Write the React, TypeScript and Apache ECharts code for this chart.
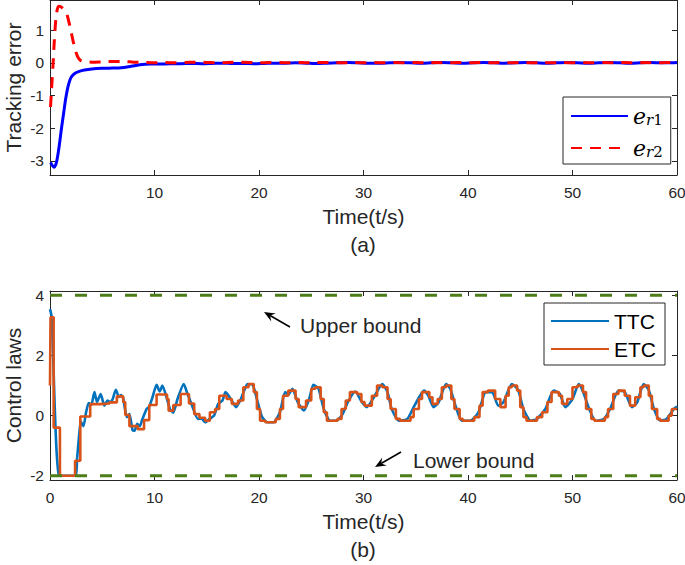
import React, { useEffect, useRef } from 'react';
import * as echarts from 'echarts';

// ---------- data (a) ----------
const er1: [number, number][] = [
  [0.05, -3.05], [0.25, -3.15], [0.4, -3.19], [0.55, -3.12], [0.7, -2.92], [0.9, -2.5], [1.1, -2.0],
  [1.3, -1.55], [1.5, -1.1], [1.7, -0.76], [1.9, -0.53], [2.1, -0.41], [2.4, -0.32], [2.8, -0.26],
  [3.3, -0.22], [4, -0.19], [5, -0.17], [6, -0.16], [6.8, -0.15], [7.5, -0.12], [8.2, -0.08],
  [8.8, -0.05], [9.5, -0.04], [10.5, -0.04], [11.5, -0.03], [12.5, -0.03], [13.5, -0.02],
  [14.5, -0.03], [15.5, -0.02], [16.5, -0.01], [17.5, -0.02], [18.5, -0.02], [19.5, -0.03],
  [20.5, -0.02], [21.5, -0.01], [22.5, -0.01], [23.5, 0], [24.5, -0.01], [25.5, -0.02],
  [26.5, -0.01], [27.5, 0], [28.5, 0.01], [29.5, 0], [30.5, -0.01], [31.5, -0.01], [32.5, 0],
  [33.5, 0.01], [34.5, 0], [35.5, -0.01], [36.5, 0], [37.5, 0.01], [38.5, 0], [39.5, -0.01],
  [40.5, 0], [41.5, 0.01], [42.5, 0], [43.5, -0.01], [44.5, 0], [45.5, 0.01], [46.5, 0],
  [47.5, -0.01], [48.5, 0], [49.5, 0.01], [50.5, 0], [51.5, -0.01], [52.5, 0], [53.5, 0.01],
  [54.5, 0], [55.5, -0.01], [56.5, 0], [57.5, 0.01], [58.5, 0], [59.5, 0], [60, 0.01],
];

const er2: [number, number][] = [
  [0.05, -1.35], [0.15, -0.8], [0.3, 0.0], [0.4, 0.6], [0.5, 1.1], [0.6, 1.45], [0.72, 1.66],
  [0.85, 1.73], [1.0, 1.72], [1.2, 1.67], [1.4, 1.6], [1.6, 1.5], [1.8, 1.26], [2.0, 0.98],
  [2.2, 0.68], [2.4, 0.42], [2.6, 0.22], [2.8, 0.11], [3.0, 0.06], [3.4, 0.03], [4, 0.02],
  [5, 0.03], [6, 0.04], [7, 0.04], [8, 0.02], [9, 0.01], [10, 0], [11, 0.01], [12, 0],
  [13, 0.01], [14, 0.02], [15, 0.01], [16, 0], [17, 0.01], [18, 0.02], [19, 0.01], [20, 0],
  [21, 0.01], [22, 0.01], [23, 0], [24, 0.01], [25, 0], [26, 0.01], [27, 0.01], [28, 0],
  [29, 0.01], [30, 0], [31, 0.01], [32, 0], [33, 0.01], [34, 0], [35, 0.01], [36, 0],
  [37, 0.01], [38, 0], [39, 0.01], [40, 0], [41, 0.01], [42, 0], [43, 0.01], [44, 0],
  [45, 0.01], [46, 0], [47, 0.01], [48, 0], [49, 0.01], [50, 0], [51, 0.01], [52, 0],
  [53, 0.01], [54, 0], [55, 0.01], [56, 0], [57, 0.01], [58, 0], [59, 0.01], [60, 0],
];

// ---------- data (b) ----------
const ttc: [number, number][] = [
  [0, 3.54], [0.15, 3.3], [0.3, 2.0], [0.45, 0.3], [0.6, -1.0], [0.75, -1.75], [0.9, -2.0],
  [2.4, -2.0], [2.6, -1.4], [2.8, -0.6], [2.95, -0.2], [3.2, -0.35], [3.45, 0.1], [3.7, 0.42],
  [3.95, 0.35], [4.25, 0.78], [4.5, 0.45], [4.85, 0.72], [5.2, 0.33], [5.5, 0.5], [5.75, 0.45],
  [6.0, 0.55], [6.3, 0.86], [6.6, 0.62], [6.8, 0.68], [7.0, 0.58], [7.35, -0.05], [7.6, 0.05],
  [7.9, -0.48], [8.1, -0.5], [8.35, -0.27], [8.6, -0.35], [8.8, -0.16], [9.25, 0.22], [9.5, 0.3],
  [9.8, 0.6], [10.2, 1.02], [10.5, 0.8], [10.75, 1.0], [11.2, 0.55], [11.5, 0.2], [11.8, 0.1],
  [12.2, 0.55], [12.8, 1.05], [13.1, 0.78], [13.6, 0.33], [14.15, -0.11], [14.5, -0.1],
  [14.85, -0.22], [15.3, -0.1], [15.7, 0.0], [16.1, 0.39], [16.5, 0.5], [16.8, 0.78], [17.3, 0.55],
  [17.8, 0.28], [18.2, 0.5], [18.6, 0.85], [18.9, 1.05], [19.4, 1.02], [19.8, 0.55], [20.3, -0.05],
  [20.8, -0.22], [21.4, -0.22], [22.0, 0.11], [22.5, 0.78], [22.8, 0.7], [23.2, 0.89], [23.7, 0.45],
  [24.3, 0.17], [24.8, 0.55], [25.2, 1.02], [25.7, 0.89], [26.2, 0.22], [26.8, -0.17], [27.4, -0.17],
  [28.0, 0.05], [28.5, 0.45], [29.2, 0.8], [29.85, 0.45], [30.3, 0.28], [31.0, 0.61], [31.8, 1.05],
  [32.3, 0.78], [32.7, 0.22], [33.4, -0.17], [34.2, -0.11], [34.8, 0.28], [35.8, 0.83], [36.2, 0.66],
  [36.7, 0.28], [37.2, 0.45], [37.9, 1.05], [38.3, 0.89], [38.8, 0.33], [39.4, -0.17], [40.2, -0.17],
  [41.0, 0.11], [41.7, 0.78], [42.3, 0.78], [42.9, 0.33], [43.4, 0.45], [44.2, 1.05], [44.8, 0.85],
  [45.3, 0.22], [46.0, -0.17], [46.6, -0.11], [47.4, 0.22], [48.2, 0.83], [48.8, 0.72], [49.3, 0.28],
  [50.0, 0.55], [50.6, 1.05], [51.0, 0.8], [51.6, 0.22], [52.2, -0.17], [53.0, -0.11], [53.6, 0.22],
  [54.4, 0.83], [55.0, 0.78], [55.7, 0.28], [56.2, 0.45], [56.8, 1.05], [57.3, 0.85], [57.8, 0.22],
  [58.4, -0.17], [59.0, -0.11], [59.7, 0.22], [60.0, 0.3],
];

const etc: [number, number][] = [
  [0, 1.0], [0.05, 3.27], [0.35, -0.4], [0.95, -2.0], [2.4, -1.5], [2.9, -0.03], [3.85, 0.38],
  [4.8, 0.4], [5.7, 0.44], [6.4, 0.64], [7.0, 0.45], [7.2, 0.02], [7.6, -0.35], [8.4, -0.45],
  [9.0, -0.15], [9.5, 0.35], [10.2, 0.7], [11.2, 0.55], [11.35, 0.16], [11.8, 0.35], [12.5, 0.72],
  [13.3, 0.4], [13.8, 0.05], [14.3, -0.07], [14.85, -0.17], [15.3, 0.11], [15.8, 0.22], [16.2, 0.66],
  [16.9, 0.55], [17.4, 0.39], [18.0, 0.5], [18.5, 0.94], [19.0, 1.05], [19.5, 0.78], [19.8, 0.22],
  [20.1, -0.17], [20.6, -0.22], [21.6, -0.11], [22.0, 0.22], [22.3, 0.66], [22.8, 0.83], [23.5, 0.55],
  [23.8, 0.28], [24.5, 0.5], [25.0, 0.89], [25.4, 0.94], [25.9, 0.55], [26.2, 0.11], [26.5, -0.17],
  [27.5, -0.11], [27.9, 0.22], [28.3, 0.5], [28.7, 0.78], [29.4, 0.72], [29.8, 0.45], [30.1, 0.33],
  [30.8, 0.66], [31.3, 1.0], [31.8, 0.94], [32.3, 0.55], [32.6, 0.22], [33.1, -0.11], [33.5, -0.17],
  [34.5, -0.05], [34.8, 0.22], [35.3, 0.55], [35.6, 0.78], [36.3, 0.61], [36.6, 0.39], [37.1, 0.55],
  [37.5, 0.94], [37.9, 1.0], [38.4, 0.55], [38.7, 0.22], [39.2, -0.11], [39.5, -0.17], [40.6, -0.05],
  [41.1, 0.33], [41.4, 0.78], [41.9, 0.83], [42.6, 0.55], [43.1, 0.28], [43.6, 0.66], [43.9, 0.94],
  [44.2, 1.0], [44.7, 0.83], [45.0, 0.28], [45.3, -0.05], [45.6, -0.17], [46.6, -0.05], [47.1, 0.11],
  [47.6, 0.45], [48.0, 0.78], [48.7, 0.66], [49.0, 0.39], [49.5, 0.55], [50.0, 0.94], [50.5, 1.0],
  [51.0, 0.78], [51.3, 0.22], [51.8, -0.11], [52.1, -0.17], [53.1, -0.05], [53.4, 0.22], [53.9, 0.72],
  [54.4, 0.83], [55.0, 0.66], [55.5, 0.33], [56.0, 0.61], [56.5, 0.94], [56.8, 1.0], [57.3, 0.66],
  [57.6, 0.22], [58.1, -0.11], [58.4, -0.17], [59.2, 0.0], [59.5, 0.22], [60, 0.22],
];

const upperBound = 4;
const lowerBound = -2;
const timeRange: [number, number] = [0, 60];
const yRangeA: [number, number] = [-3.43, 1.92];
const yRangeB: [number, number] = [-2.14, 4.14];

// ---------- styles ----------
const FONT = 'Liberation Sans, Arial, Helvetica, sans-serif';
const AX = '#262626';

function arrow(tail: [number, number], tip: [number, number]) {
  const dx = tip[0] - tail[0];
  const dy = tip[1] - tail[1];
  const L = Math.hypot(dx, dy);
  const ux = dx / L, uy = dy / L;
  const len = 11, half = 4.5, notch = 7;
  const bx = tip[0] - ux * len, by = tip[1] - uy * len;
  const px = -uy, py = ux;
  const nx = tip[0] - ux * notch, ny = tip[1] - uy * notch;
  return [
    { type: 'line', shape: { x1: tail[0], y1: tail[1], x2: nx, y2: ny }, style: { stroke: '#000', lineWidth: 1.5 } },
    {
      type: 'polygon',
      shape: { points: [tip, [bx + px * half, by + py * half], [nx, ny], [bx - px * half, by - py * half]] },
      style: { fill: '#000' },
    },
  ];
}

function xAx(grid: number, main: boolean, hideZero: boolean) {
  return {
    gridIndex: grid, type: 'value', min: timeRange[0], max: timeRange[1], interval: 10,
    position: main ? 'bottom' : 'top',
    axisLine: { show: true, onZero: false, lineStyle: { color: AX, width: 1 } },
    axisTick: { show: true, inside: true, length: 5, lineStyle: { color: AX } },
    axisLabel: {
      show: main, margin: 9, fontSize: 15.5, color: AX, fontFamily: FONT,
      formatter: (v: number) => (hideZero && v === 0 ? '' : String(v)),
    },
    splitLine: { show: false },
    name: main ? 'Time(t/s)' : '', nameLocation: 'middle', nameGap: 31, nameMoveOverlap: false,
    nameTextStyle: { fontSize: 21, color: AX, fontFamily: FONT },
  };
}

function yAx(grid: number, main: boolean, range: [number, number], step: number, name: string) {
  return {
    gridIndex: grid, type: 'value', min: range[0], max: range[1], minInterval: step, maxInterval: step,
    position: main ? 'left' : 'right',
    axisLine: { show: true, onZero: false, lineStyle: { color: AX, width: 1 } },
    axisTick: { show: true, inside: true, length: 5, lineStyle: { color: AX } },
    axisLabel: {
      show: main, margin: 6, fontSize: 15.5, color: AX, fontFamily: FONT,
      formatter: (v: number) => {
        const r = Math.round(v / step) * step;
        return Math.abs(v - r) < 1e-6 ? String(r) : '';
      },
    },
    splitLine: { show: false },
    name: main ? name : '', nameLocation: 'middle', nameGap: 26, nameRotate: 90, nameMoveOverlap: false,
    nameTextStyle: { fontSize: 21, color: AX, fontFamily: FONT },
  };
}

export default function App() {
  const ref = useRef<HTMLDivElement>(null);
  useEffect(() => {
    const chart = echarts.init(ref.current!, null, { renderer: 'svg' });
    const option: any = {
      animation: false,
      backgroundColor: '#fff',
      grid: [
        { left: 50, top: 0, width: 627, height: 175, outerBoundsMode: 'none', containLabel: false },
        { left: 50, top: 291, width: 627, height: 189, outerBoundsMode: 'none', containLabel: false },
      ],
      xAxis: [xAx(0, true, true), xAx(0, false, true), xAx(1, true, false), xAx(1, false, false)],
      yAxis: [
        yAx(0, true, yRangeA, 1, 'Tracking error'),
        yAx(0, false, yRangeA, 1, ''),
        yAx(1, true, yRangeB, 2, 'Control laws'),
        yAx(1, false, yRangeB, 2, ''),
      ],
      legend: [
        {
          data: ['er1', 'er2'], orient: 'vertical', left: 563, top: 97, itemWidth: 57, itemHeight: 14,
          itemGap: 10, padding: [8, 8, 5, 7], borderColor: AX, borderWidth: 1, backgroundColor: '#fff',
          selectedMode: false, itemStyle: { opacity: 0 },
          formatter: (n: string) => (n === 'er1' ? '{e|e}{r|r}{n|1}' : '{e|e}{r|r}{n|2}'),
          textStyle: {
            color: '#000',
            rich: {
              e: { fontFamily: 'DejaVu Serif', fontStyle: 'italic', fontSize: 22, lineHeight: 22, verticalAlign: 'middle', color: '#000' },
              r: { fontFamily: 'DejaVu Serif', fontStyle: 'italic', fontSize: 15, lineHeight: 4, verticalAlign: 'bottom', color: '#000' },
              n: { fontFamily: 'DejaVu Serif', fontSize: 15, lineHeight: 4, verticalAlign: 'bottom', color: '#000' },
            },
          },
        },
        {
          data: ['TTC', 'ETC'], orient: 'vertical', left: 544, top: 303, itemWidth: 58, itemHeight: 14,
          itemGap: 6, padding: [7, 9, 5, 6], borderColor: AX, borderWidth: 1, backgroundColor: '#fff',
          selectedMode: false, itemStyle: { opacity: 0 },
          textStyle: { color: '#000', fontSize: 21, fontFamily: FONT, lineHeight: 22 },
        },
      ],
      series: [
        {
          type: 'line', name: 'er1', xAxisIndex: 0, yAxisIndex: 0, data: er1, symbol: 'none', smooth: 0.3,
          lineStyle: { color: '#0000FF', width: 3 }, itemStyle: { color: '#0000FF' }, z: 2,
        },
        {
          type: 'line', name: 'er2', xAxisIndex: 0, yAxisIndex: 0, data: er2, symbol: 'none', smooth: 0.3,
          lineStyle: { color: '#FF0000', width: 3, type: [11, 8] }, itemStyle: { color: '#FF0000' }, z: 3,
        },
        {
          type: 'line', name: 'TTC', xAxisIndex: 2, yAxisIndex: 2, data: ttc, symbol: 'none', smooth: 0.2,
          lineStyle: { color: '#0072BD', width: 2.6 }, itemStyle: { color: '#0072BD' }, z: 2,
        },
        {
          type: 'line', name: 'ETC', xAxisIndex: 2, yAxisIndex: 2, data: etc, symbol: 'none', step: 'end',
          lineStyle: { color: '#D95319', width: 2.6 }, itemStyle: { color: '#D95319' }, z: 3,
        },
        {
          type: 'line', name: 'Upper', xAxisIndex: 2, yAxisIndex: 2,
          data: [[timeRange[0], upperBound], [timeRange[1], upperBound]], symbol: 'none',
          lineStyle: { color: '#4C7D19', width: 3, type: [12, 13] }, z: 4,
        },
        {
          type: 'line', name: 'Lower', xAxisIndex: 2, yAxisIndex: 2,
          data: [[timeRange[0], lowerBound], [timeRange[1], lowerBound]], symbol: 'none',
          lineStyle: { color: '#4C7D19', width: 3, type: [12, 13] }, z: 4,
        },
      ],
      graphic: [
        { type: 'text', style: { text: '(a)', x: 363, y: 244, textAlign: 'center', textVerticalAlign: 'middle', font: `21px ${FONT}`, fill: AX } },
        { type: 'text', style: { text: '(b)', x: 363, y: 549, textAlign: 'center', textVerticalAlign: 'middle', font: `21px ${FONT}`, fill: AX } },
        { type: 'text', style: { text: 'Upper bound', x: 300, y: 325, textAlign: 'left', textVerticalAlign: 'middle', font: `21px ${FONT}`, fill: AX } },
        { type: 'text', style: { text: 'Lower bound', x: 413, y: 460, textAlign: 'left', textVerticalAlign: 'middle', font: `21px ${FONT}`, fill: AX } },
        ...arrow([290, 327], [264, 312]),
        ...arrow([401, 452], [375, 467]),
      ],
    };
    chart.setOption(option);
    return () => chart.dispose();
  }, []);
  return <div ref={ref} style={{ position: 'absolute', left: 0, top: 0, width: 685, height: 565 }} />;
}
